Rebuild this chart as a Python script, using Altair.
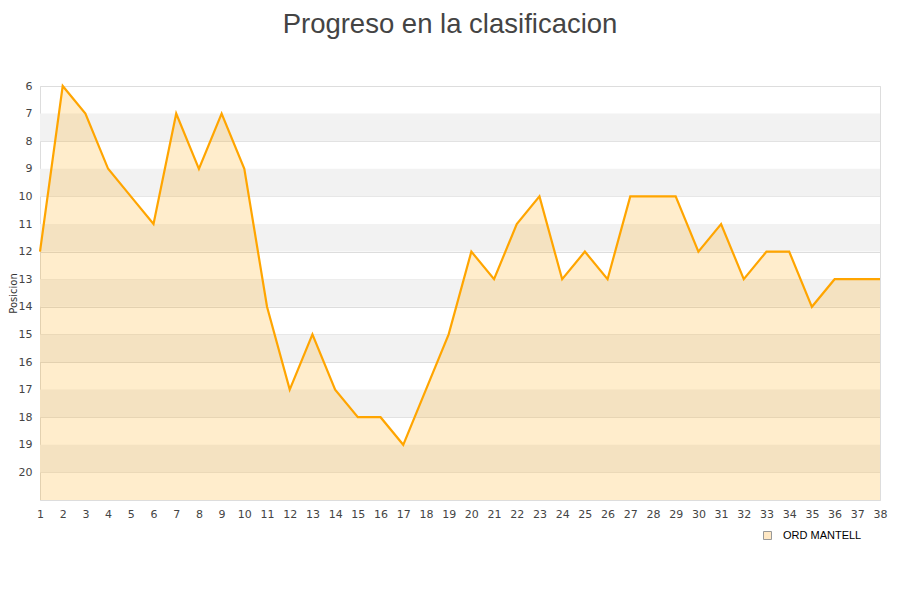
import altair as alt
import pandas as pd

jornadas = list(range(1, 39))
posiciones = [12, 6, 7, 9, 10, 11, 7, 9, 7, 9, 14, 17, 15, 17, 18, 18, 19, 17, 15, 12,
              13, 11, 10, 13, 12, 13, 10, 10, 10, 12, 11, 13, 12, 12, 14, 13, 13, 13]
equipo = "ORD MANTELL"
y_ticks = list(range(6, 21))
band_start = [7, 9, 11, 13, 15, 17, 19]
band_end = [8, 10, 12, 14, 16, 18, 20]
y_min, y_max = 6, 21

df = pd.DataFrame({"jornada": jornadas, "posicion": posiciones, "equipo": [equipo] * len(jornadas)})
bands = pd.DataFrame({"y0": band_start, "y1": band_end})

W, H = 840, 414

yscale = alt.Scale(domain=[y_min, y_max], reverse=True, nice=False, zero=False)
xscale = alt.Scale(domain=[1, 38], nice=False, zero=False)

y_axis = alt.Axis(title="Posicion", values=y_ticks, grid=True, gridColor="#DDDDDD",
                  ticks=False, domain=False, labelPadding=8, labelFontSize=11,
                  labelColor="#444444", labelFont="DejaVu Sans", labelOverlap=False,
                  labelBound=False,
                  titleFontSize=10, titleFont="DejaVu Sans", titleFontWeight="normal",
                  titleColor="#333333", titleX=-31.5, titleY=H / 2, titleAngle=270,
                  titleAlign="center", titleBaseline="top")
x_axis = alt.Axis(title=None, values=jornadas, grid=False, ticks=False,
                  domainColor="#DDDDDD", labelPadding=8, labelFontSize=11,
                  labelColor="#444444", labelFont="DejaVu Sans", labelFlush=False,
                  labelOverlap=False, labelBound=False)

band_layer = alt.Chart(bands).mark_rect(color="#F2F2F2").encode(
    y=alt.Y("y0:Q", scale=yscale, axis=y_axis),
    y2="y1:Q",
    x=alt.value(0),
    x2=alt.value(W),
)

area = alt.Chart(df).mark_area(opacity=0.2, interpolate="linear", color="#FFA500").encode(
    x=alt.X("jornada:Q", scale=xscale, axis=x_axis),
    y=alt.Y("posicion:Q", scale=yscale, axis=y_axis),
    y2=alt.datum(y_max),
)

line = alt.Chart(df).mark_line(color="#FFA500", strokeWidth=2.2).encode(
    x=alt.X("jornada:Q", scale=xscale, axis=x_axis),
    y=alt.Y("posicion:Q", scale=yscale, axis=y_axis),
)

legend_layer = alt.Chart(df).mark_square(opacity=0, size=0).encode(
    x=alt.X("jornada:Q", scale=xscale, axis=x_axis),
    y=alt.Y("posicion:Q", scale=yscale, axis=y_axis),
    fill=alt.Fill("equipo:N", scale=alt.Scale(range=["#FFE8C4"]),
                  legend=alt.Legend(title=None, orient="none", legendX=722, legendY=444,
                                    symbolType="square", symbolSize=64,
                                    symbolStrokeColor="#999999", symbolStrokeWidth=1,
                                    symbolOpacity=1, labelOffset=10,
                                    labelFont="Liberation Sans", labelFontSize=11,
                                    labelColor="#000000")),
)

chart = alt.layer(band_layer, area, line, legend_layer).properties(
    width=W, height=H,
    title=alt.TitleParams("Progreso en la clasificacion", font="Liberation Sans", fontSize=27.5,
                          fontWeight="normal", color="#444444", anchor="middle", offset=42, dx=-10),
    autosize=alt.AutoSizeParams(type="none"),
    padding={"left": 32, "top": 78, "right": 12, "bottom": 80},
).configure_view(stroke="#DDDDDD").configure(background="white")

chart.save("out.html", embed_options={"renderer": "svg", "actions": False})
